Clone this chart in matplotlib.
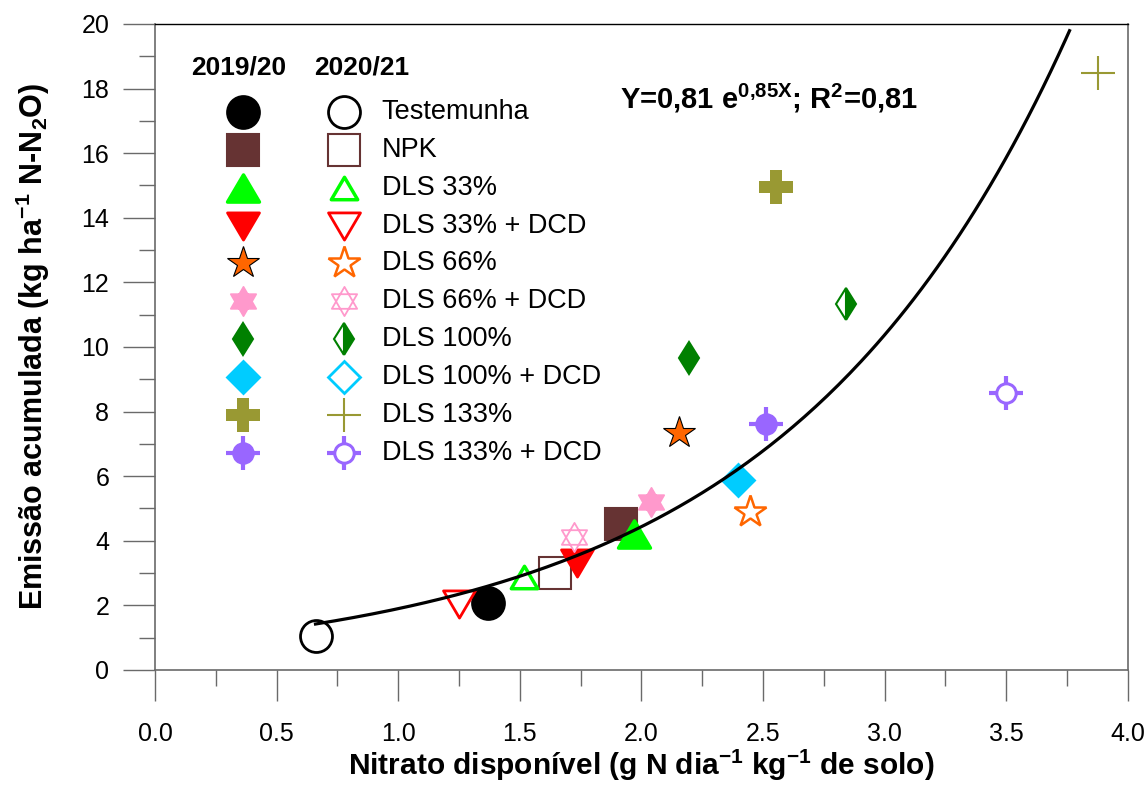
import numpy as np
import matplotlib as mpl
mpl.use("Agg")
from matplotlib import pyplot as plt
from matplotlib.path import Path

plt.rcParams['font.family'] = ['Liberation Sans', 'DejaVu Sans']
plt.rcParams['mathtext.fontset'] = 'custom'
plt.rcParams['mathtext.default'] = 'regular'

treatments = ['Testemunha', 'NPK', 'DLS 33%', 'DLS 33% + DCD', 'DLS 66%',
              'DLS 66% + DCD', 'DLS 100%', 'DLS 100% + DCD', 'DLS 133%',
              'DLS 133% + DCD']
seasons = ['2019/20', '2020/21']

# nitrate available (x) and cumulative N2O emission (y), one value per treatment
x_1920 = [1.37, 1.916, 1.97, 1.735, 2.154, 2.04, 2.195, 2.396, 2.552, 2.513]
y_1920 = [2.07, 4.52, 4.22, 3.30, 7.34, 5.20, 9.66, 5.88, 14.95, 7.62]
x_2021 = [0.66, 1.645, 1.518, 1.251, 2.445, 1.723, 2.839, np.nan, 3.877, 3.50]
y_2021 = [1.05, 3.00, 2.88, 2.04, 4.89, 4.12, 11.33, np.nan, 18.48, 8.58]

# exponential fit Y = a e^(bX)
fit_a, fit_b = 0.81, 0.85
fit_r2 = 0.81
fit_xmin, fit_xmax = 0.66, 3.76

# custom marker paths
tri_up = Path([(0, 0.85), (-1, -0.85), (1, -0.85), (0, 0.85)],
              [Path.MOVETO, Path.LINETO, Path.LINETO, Path.CLOSEPOLY])
tri_dn = Path([(0, -0.85), (1, 0.85), (-1, 0.85), (0, -0.85)],
              [Path.MOVETO, Path.LINETO, Path.LINETO, Path.CLOSEPOLY])
ang_up = np.deg2rad([90, 210, 330])
ang_dn = np.deg2rad([270, 30, 150])
hex_verts = ([(np.cos(a), np.sin(a)) for a in ang_up] + [(0, 1)] +
             [(np.cos(a), np.sin(a)) for a in ang_dn] + [(0, -1)])
hex_codes = [Path.MOVETO, Path.LINETO, Path.LINETO, Path.CLOSEPOLY] * 2
hexagram = Path(hex_verts, hex_codes)

colors = ['black', '#663333', '#00ff00', '#ff0000', '#ff6600', '#ff99cc',
          '#008000', '#00ccff', '#999933', '#9966ff']


def draw_marker(ax, x, y, i, filled, **kw):
    c = colors[i]
    if i == 0:
        st = dict(marker='o', ms=23, mew=2)
    elif i == 1:
        st = dict(marker='s', ms=23, mew=1.5)
    elif i == 2:
        st = dict(marker=tri_up, ms=23 if filled else 19, mew=2.5)
    elif i == 3:
        st = dict(marker=tri_dn, ms=23, mew=2)
    elif i == 4:
        st = dict(marker='*', ms=24, mew=1.8 if not filled else 0.8)
    elif i == 5:
        st = dict(marker=hexagram, ms=21, mew=1.3)
    elif i == 6:
        st = dict(marker='d', ms=16.5, mew=1.5)
    elif i == 7:
        st = dict(marker='D', ms=16.5, mew=2)
    elif i == 8:
        st = dict(marker='P' if filled else '+', ms=24, mew=0 if filled else 1.5)
    else:
        ax.plot(x, y, marker='+', ms=24, mew=3, color=c, ls='none', **kw)
        st = dict(marker='o', ms=14, mew=2.2)
    if filled:
        ec = 'black' if i == 4 else c
        ax.plot(x, y, ls='none', mfc=c, mec=ec, **st, **kw)
    elif i == 6:
        ax.plot(x, y, ls='none', mfc=c, mfcalt='white', mec=c,
                fillstyle='right', **st, **kw)
    elif i == 8:
        ax.plot(x, y, ls='none', color=c, **st, **kw)
    else:
        ax.plot(x, y, ls='none', mfc='white', mec=c, **st, **kw)


fig = plt.figure(figsize=(11.48, 7.89), dpi=100)
ax = fig.add_axes([0.135, 0.151, 0.8475, 0.8186])

for i in range(len(treatments)):
    draw_marker(ax, x_1920[i], y_1920[i], i, True, zorder=3)
    draw_marker(ax, x_2021[i], y_2021[i], i, False, zorder=3)

xf = np.linspace(fit_xmin, fit_xmax, 200)
ax.plot(xf, fit_a * np.exp(fit_b * xf), color='black', lw=2.3, zorder=4)

ax.set_xlim(0, 4)
ax.set_ylim(0, 20)
ax.set_xticks(np.arange(0, 4.01, 0.5))
ax.set_xticks(np.arange(0, 4.01, 0.25), minor=True)
ax.set_yticks(np.arange(0, 20.1, 2))
ax.set_yticks(np.arange(0, 20.1, 1), minor=True)
ax.set_xticklabels(['%.1f' % v for v in np.arange(0, 4.01, 0.5)])

gray = '#6a6a6a'
for s in ['left', 'bottom', 'right']:
    ax.spines[s].set_color(gray)
    ax.spines[s].set_linewidth(1.2)
ax.spines['top'].set_color('black')
ax.spines['top'].set_linewidth(1)
ax.tick_params(axis='x', which='major', direction='out', length=22.5, width=1,
               color=gray, labelsize=18, pad=15)
ax.tick_params(axis='x', which='minor', direction='out', length=11.5, width=1,
               color=gray)
ax.tick_params(axis='y', which='major', direction='out', length=23, width=1,
               color=gray, labelsize=18, pad=10)
ax.tick_params(axis='y', which='minor', direction='out', length=11.5, width=1,
               color=gray)

ax.set_xlabel('Nitrato disponível (g N dia$^{-1}$ kg$^{-1}$ de solo)',
              fontsize=21.5, fontweight='bold', labelpad=1)
ax.set_ylabel('Emissão acumulada (kg ha$^{-1}$ N-N$_{2}$O)',
              fontsize=22, fontweight='bold', labelpad=21)

ax.text(0.478, 0.885, 'Y=%s e$^{0{,}85X}$; R$^{2}$=%s' %
        (('%.2f' % fit_a).replace('.', ','), ('%.2f' % fit_r2).replace('.', ',')),
        transform=ax.transAxes, fontsize=21, fontweight='bold',
        va='center', ha='left')

# two-column legend: filled = 2019/20, open = 2020/21
col_x = [0.0904, 0.194]
text_x = 0.233
row_y0, row_dy = 0.864, 0.0587
ax.text(0.0863, 0.933, seasons[0], transform=ax.transAxes, fontsize=19,
        fontweight='bold', ha='center', va='center')
ax.text(0.2127, 0.933, seasons[1], transform=ax.transAxes, fontsize=19,
        fontweight='bold', ha='center', va='center')
for i, name in enumerate(treatments):
    yy = row_y0 - i * row_dy
    draw_marker(ax, col_x[0], yy, i, True, transform=ax.transAxes, clip_on=False)
    draw_marker(ax, col_x[1], yy, i, False, transform=ax.transAxes, clip_on=False)
    ax.text(text_x, yy, name, transform=ax.transAxes, fontsize=19.5,
            ha='left', va='center')

fig.savefig('out.png', dpi=100)
